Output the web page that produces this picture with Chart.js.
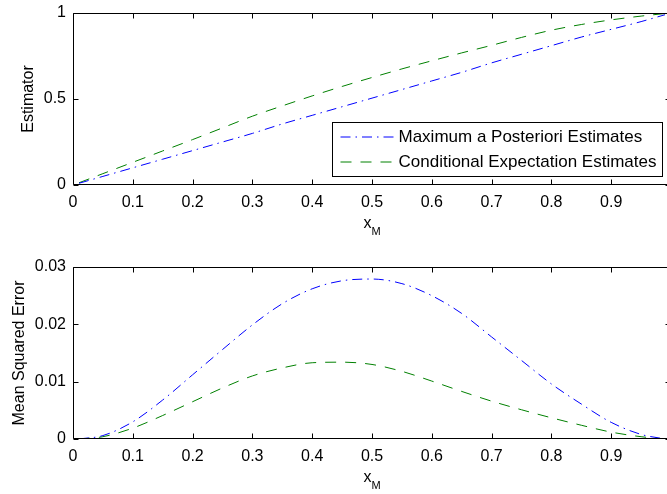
<!DOCTYPE html>
<html>
<head>
<meta charset="utf-8">
<script src="https://cdn.jsdelivr.net/npm/chart.js@4"></script>
<style>
  html, body { margin: 0; padding: 0; background: #fff; overflow: hidden; }
  #wrap { position: relative; width: 667px; height: 494px; overflow: hidden; }
  canvas { position: absolute; left: 0; }
  #top { top: 0; }
  #bottom { top: 250px; }
</style>
</head>
<body>
<div id="wrap">
  <canvas id="top" width="680" height="250"></canvas>
  <canvas id="bottom" width="680" height="244"></canvas>
</div>
<script>
// ─── DATA ─────────────────────────────────────────────────────────────────────
const X_M = [0.01, 0.05, 0.10, 0.15, 0.20, 0.25, 0.30, 0.35, 0.40, 0.45, 0.50,
             0.55, 0.60, 0.65, 0.70, 0.75, 0.80, 0.85, 0.90, 0.95, 0.99];

const MAP_EST = [0.010, 0.050, 0.100, 0.150, 0.200, 0.250, 0.300, 0.355, 0.405, 0.455, 0.505,
                 0.555, 0.605, 0.655, 0.710, 0.760, 0.810, 0.860, 0.905, 0.950, 0.990];
const CE_EST  = [0.013, 0.066, 0.132, 0.198, 0.264, 0.332, 0.400, 0.460, 0.518, 0.573, 0.625,
                 0.675, 0.722, 0.768, 0.812, 0.858, 0.900, 0.933, 0.960, 0.982, 0.997];

const MAP_MSE = [0.0000, 0.0006, 0.0030, 0.0068, 0.0112, 0.0156, 0.0199, 0.0236, 0.0262, 0.0276, 0.0279,
                 0.0271, 0.0250, 0.0219, 0.0178, 0.0137, 0.0096, 0.0061, 0.0029, 0.0008, 0.0000];
const CE_MSE  = [0.0000, 0.0004, 0.0019, 0.0041, 0.0065, 0.0089, 0.0110, 0.0124, 0.0133, 0.0134, 0.0130,
                 0.0118, 0.0101, 0.0083, 0.0066, 0.0051, 0.0037, 0.0024, 0.0012, 0.0004, 0.0000];

const X_TICKS = [0, 0.1, 0.2, 0.3, 0.4, 0.5, 0.6, 0.7, 0.8, 0.9, 1];
const SERIES_LABELS = ["Maximum a Posteriori Estimates", "Conditional Expectation Estimates"];
const X_LABEL = ["x", "M"];   // x with subscript M

// ─── STYLE ────────────────────────────────────────────────────────────────────
const FONT = '"Liberation Sans", Arial, Helvetica, sans-serif';
const BLUE = "#0000ff";
const GREEN = "#008000";
const DASHDOT = [10, 5, 1.5, 5];
const DASHED = [11, 9];

Chart.defaults.font.family = FONT;
Chart.defaults.color = "#000";

const pts = ys => X_M.map((x, i) => ({ x, y: ys[i] }));
const fmt = v => String(+v.toFixed(3));

// ─── MATLAB-STYLE FRAME / TICKS / LEGEND / XLABEL ─────────────────────────────
const matlabAxes = {
  id: "matlabAxes",
  afterDraw(chart, args, opts) {
    const { ctx, chartArea: a, scales: { x, y } } = chart;
    const L = Math.round(a.left) + 0.5, R = Math.round(a.right) - 0.5;
    const T = Math.round(a.top) + 0.5, B = Math.round(a.bottom) - 0.5;
    ctx.save();
    ctx.strokeStyle = "#000";
    ctx.lineWidth = 1;
    ctx.setLineDash([]);
    ctx.beginPath();
    ctx.rect(L, T, R - L, B - T);
    // inward ticks
    x.ticks.forEach(t => {
      const px = Math.round(x.getPixelForValue(t.value)) + 0.5;
      ctx.moveTo(px, B); ctx.lineTo(px, B - 5);
      ctx.moveTo(px, T); ctx.lineTo(px, T + 5);
    });
    y.ticks.forEach(t => {
      const py = Math.round(y.getPixelForValue(t.value)) + 0.5;
      ctx.moveTo(L, py); ctx.lineTo(L + 5, py);
      ctx.moveTo(R, py); ctx.lineTo(R - 5, py);
    });
    ctx.stroke();

    // x label with subscript
    ctx.fillStyle = "#000";
    ctx.textBaseline = "alphabetic";
    ctx.textAlign = "left";
    ctx.font = "16px " + FONT;
    const wx = ctx.measureText(X_LABEL[0]).width;
    ctx.font = "11px " + FONT;
    const wm = ctx.measureText(X_LABEL[1]).width;
    const cx = (a.left + a.right) / 2;
    const x0 = cx - (wx + wm) / 2;
    ctx.font = "16px " + FONT;
    ctx.fillText(X_LABEL[0], x0, a.bottom + 42.5);
    ctx.font = "11px " + FONT;
    ctx.fillText(X_LABEL[1], x0 + wx, a.bottom + 49.5);

    // legend box
    if (opts.legend) {
      const bw = 330, bh = 54;
      const bx = Math.round(a.right - 9 - bw) + 0.5, by = Math.round(a.bottom - 9 - bh) + 0.5;
      ctx.fillStyle = "#fff";
      ctx.fillRect(bx, by, bw, bh);
      ctx.strokeStyle = "#000";
      ctx.strokeRect(bx, by, bw, bh);
      chart.data.datasets.forEach((ds, i) => {
        const ry = by + 14.5 + i * 25;
        ctx.strokeStyle = ds.borderColor;
        ctx.setLineDash(ds.borderDash);
        ctx.beginPath();
        ctx.moveTo(bx + 8, ry); ctx.lineTo(bx + 61, ry);
        ctx.stroke();
        ctx.setLineDash([]);
        ctx.fillStyle = "#000";
        ctx.font = "17px " + FONT;
        ctx.textBaseline = "middle";
        ctx.fillText(ds.label, bx + 66, ry);
      });
    }
    ctx.restore();
  }
};

// ─── CHART BUILDER ────────────────────────────────────────────────────────────
function makeChart(id, series, yOpts, layout) {
  return new Chart(document.getElementById(id), {
    type: "line",
    data: {
      datasets: [
        { label: SERIES_LABELS[0], data: pts(series[0]), borderColor: BLUE,
          borderDash: DASHDOT, borderWidth: 1, pointRadius: 0, cubicInterpolationMode: "monotone" },
        { label: SERIES_LABELS[1], data: pts(series[1]), borderColor: GREEN,
          borderDash: DASHED, borderWidth: 1, pointRadius: 0, cubicInterpolationMode: "monotone" },
      ]
    },
    options: {
      responsive: false,
      animation: false,
      layout: { padding: { top: layout.top, right: 9, left: 0, bottom: 0 } },
      scales: {
        x: {
          type: "linear", min: 0, max: 1,
          afterBuildTicks: s => { s.ticks = X_TICKS.map(v => ({ value: v })); },
          afterFit: s => { s.height = layout.xh; s.paddingLeft = 0; s.paddingRight = 0; },
          grid: { drawOnChartArea: false, drawTicks: false },
          border: { display: false },
          ticks: { padding: 8, maxRotation: 0, autoSkip: false, color: "#000",
                   font: { size: 16 }, callback: fmt },
        },
        y: {
          min: 0, max: yOpts.max,
          afterBuildTicks: s => { s.ticks = yOpts.ticks.map(v => ({ value: v })); },
          afterFit: s => { s.width = 73; s.paddingTop = 0; s.paddingBottom = 0; },
          grid: { drawOnChartArea: false, drawTicks: false },
          border: { display: false },
          ticks: { padding: 7, color: "#000", font: { size: 16 }, callback: fmt },
          title: { display: true, text: yOpts.title, color: "#000",
                   font: { size: 16 }, padding: { top: yOpts.titlePad, bottom: 0 } },
        }
      },
      plugins: {
        legend: { display: false },
        tooltip: { enabled: false },
        matlabAxes: { legend: layout.legend },
      }
    },
    plugins: [matlabAxes]
  });
}

makeChart("top", [MAP_EST, CE_EST],
  { max: 1, ticks: [0, 0.5, 1], title: "Estimator", titlePad: 19 },
  { top: 13, xh: 65, legend: true });

makeChart("bottom", [MAP_MSE, CE_MSE],
  { max: 0.03, ticks: [0, 0.01, 0.02, 0.03], title: "Mean Squared Error", titlePad: 9.5 },
  { top: 17, xh: 55, legend: false });
</script>
</body>
</html>
